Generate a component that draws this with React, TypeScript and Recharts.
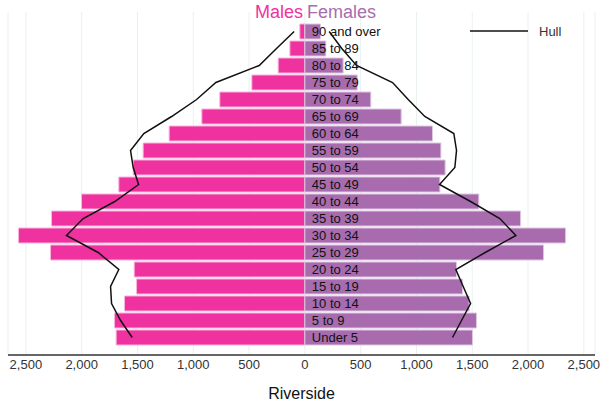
import { ComposedChart, Bar, Line, XAxis, YAxis, CartesianGrid, LabelList } from "recharts";

const AGE_GROUPS = [
  "90 and over", "85 to 89", "80 to 84", "75 to 79", "70 to 74", "65 to 69", "60 to 64",
  "55 to 59", "50 to 54", "45 to 49", "40 to 44", "35 to 39", "30 to 34", "25 to 29",
  "20 to 24", "15 to 19", "10 to 14", "5 to 9", "Under 5",
];
const MALES = [45, 134, 239, 475, 762, 923, 1216, 1449, 1538, 1667, 2001, 2270, 2566, 2279, 1529, 1508, 1616, 1706, 1691];
const FEMALES = [140, 188, 343, 469, 591, 863, 1144, 1219, 1257, 1210, 1559, 1933, 2336, 2139, 1359, 1413, 1472, 1538, 1502];
const HULL_MALES = [96, 254, 409, 797, 970, 1194, 1443, 1562, 1538, 1490, 1703, 1986, 2136, 1852, 1667, 1741, 1732, 1651, 1547];
const HULL_FEMALES = [218, 331, 463, 786, 926, 1075, 1335, 1359, 1344, 1207, 1485, 1747, 1891, 1616, 1353, 1419, 1485, 1404, 1323];
const TICKS = [-2500, -2000, -1500, -1000, -500, 0, 500, 1000, 1500, 2000, 2500];

const COLORS = { males: "#F032A0", females: "#A86CAE", hull: "#111111" };

const data = AGE_GROUPS.map((age, i) => ({
  age,
  males: -MALES[i],
  females: FEMALES[i],
  hullMales: -HULL_MALES[i],
  hullFemales: HULL_FEMALES[i],
}));

const fmt = (v: number) => Math.abs(v).toLocaleString("en-US");

function AgeLabel(props: any) {
  const { x, y, height, value } = props;
  return (
    <text x={x + 7} y={y + height / 2} dominantBaseline="central" fontSize={13} fill="#111">
      {value}
    </text>
  );
}

export default function App() {
  return (
    <div
      style={{
        position: "absolute",
        left: 0,
        top: 0,
        width: 600,
        height: 403,
        fontFamily: "'Liberation Sans', Arial, sans-serif",
        background: "#fff",
      }}
    >
      <ComposedChart
        width={600}
        height={403}
        data={data}
        layout="vertical"
        stackOffset="sign"
        barCategoryGap={1}
        margin={{ top: 12, right: 5, bottom: 0, left: 8 }}
      >
        <CartesianGrid horizontal={false} stroke="#e9f0f1" />
        <XAxis
          type="number"
          domain={[-2660, 2600]}
          ticks={TICKS}
          tickFormatter={fmt}
          allowDataOverflow
          height={48}
          tickLine={false}
          tickSize={0}
          tickMargin={5}
          axisLine={{ stroke: "#333", strokeWidth: 1.5 }}
          tick={{ fill: "#333", fontSize: 13 }}
          label={{ value: "Riverside", position: "insideBottom", offset: 4, fontSize: 16, fill: "#111" }}
        />
        <YAxis type="category" dataKey="age" hide padding={{ top: 11, bottom: 9 }} />
        <Bar dataKey="males" stackId="pop" fill={COLORS.males} stroke="#f8b4da" strokeWidth={1} isAnimationActive={false} />
        <Bar dataKey="females" stackId="pop" fill={COLORS.females} stroke="#dcc6e0" strokeWidth={1} isAnimationActive={false}>
          <LabelList dataKey="age" content={AgeLabel} />
        </Bar>
        <Line dataKey="hullMales" type="linear" stroke={COLORS.hull} strokeWidth={1.5} dot={false} isAnimationActive={false} />
        <Line dataKey="hullFemales" type="linear" stroke={COLORS.hull} strokeWidth={1.5} dot={false} isAnimationActive={false} />
      </ComposedChart>
      <div style={{ position: "absolute", top: 2, right: 297, fontSize: 18, color: COLORS.males }}>Males</div>
      <div style={{ position: "absolute", top: 2, left: 307, fontSize: 18, color: COLORS.females }}>Females</div>
      <div style={{ position: "absolute", top: 23, left: 470, display: "flex", alignItems: "center", fontSize: 13, color: "#333" }}>
        <svg width={60} height={16}>
          <line x1={0} y1={8} x2={58} y2={8} stroke={COLORS.hull} strokeWidth={1.5} />
        </svg>
        <span style={{ marginLeft: 9 }}>Hull</span>
      </div>
    </div>
  );
}
